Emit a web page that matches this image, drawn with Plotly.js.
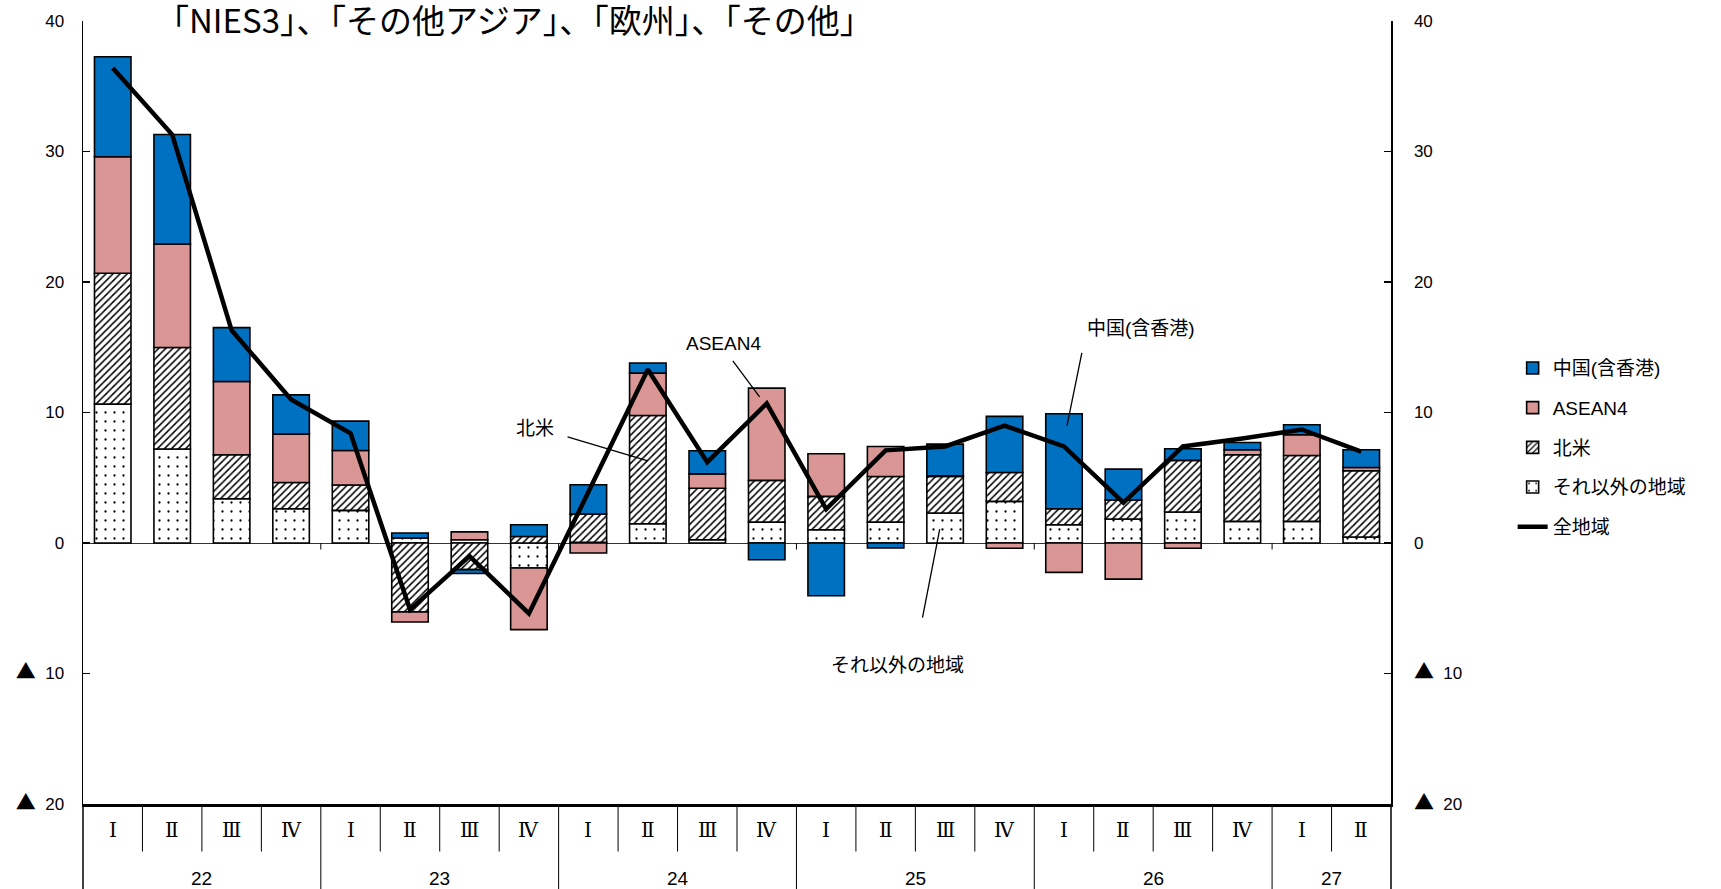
<!DOCTYPE html>
<html>
<head>
<meta charset="utf-8">
<script src="https://cdn.plot.ly/plotly-3.0.1.min.js"></script>
<style>html,body{margin:0;padding:0;background:#fff;}#chart{width:1721px;height:889px;}</style>
</head>
<body>
<div id="chart"></div>
<script>
// ---- data ----
const quarters = ['Ⅰ','Ⅱ','Ⅲ','Ⅳ','Ⅰ','Ⅱ','Ⅲ','Ⅳ','Ⅰ','Ⅱ','Ⅲ','Ⅳ','Ⅰ','Ⅱ','Ⅲ','Ⅳ','Ⅰ','Ⅱ','Ⅲ','Ⅳ','Ⅰ','Ⅱ'];
const years = ['22','22','22','22','23','23','23','23','24','24','24','24','25','25','25','25','26','26','26','26','27','27'];
const yearLabels = ['22','23','24','25','26','27'];
const categories = years.map((y, i) => y + '-' + quarters[i]);

const other  = [10.64, 7.2, 3.39, 2.63, 2.5, 0.38, 0.25, -1.91, 0.05, 1.48, 0.25, 1.6, 1.02, 1.6, 2.3, 3.19, 1.4, 1.84, 2.37, 1.66, 1.66, 0.46];
const northAmerica = [10.03, 7.78, 3.37, 2.01, 1.94, -5.28, -2.04, 0.5, 2.17, 8.29, 3.95, 3.2, 2.55, 3.5, 2.8, 2.21, 1.23, 1.46, 3.96, 5.1, 5.04, 5.08];
const asean4 = [8.93, 7.92, 5.61, 3.7, 2.65, -0.77, 0.6, -4.73, -0.77, 3.25, 1.1, 7.07, 3.27, 2.3, 0.05, -0.4, -2.25, -2.77, -0.4, 0.38, 1.6, 0.25];
const china  = [7.66, 8.4, 4.13, 3.01, 2.25, 0.39, -0.3, 0.9, 2.24, 0.77, 1.77, -1.28, -4.04, -0.38, 2.43, 4.3, 7.27, 2.36, 0.89, 0.56, 0.76, 1.35];
const total  = [36.4, 31.3, 16.3, 11.0, 8.4, -5.1, -1.0, -5.4, 3.9, 13.3, 6.2, 10.7, 2.6, 7.1, 7.4, 9.0, 7.4, 3.1, 7.4, 8.0, 8.7, 7.0];

const tickVals = [-20, -10, 0, 10, 20, 30, 40];
const tri = '<span style="font-family:Noto Sans CJK JP;font-size:20px">▲</span>\u00a0\u00a0';
const tickText = [tri + '20', tri + '10', '0', '10', '20', '30', '40'];

const names = {china: '中国(含香港)', asean: 'ASEAN4', na: '北米', other: 'それ以外の地域', total: '全地域'};
const noteText = '「NIES3」、「その他アジア」、「欧州」、「その他」';

// ---- styling ----
const FONT = 'Liberation Sans, Arial, Noto Sans CJK JP, sans-serif';
const outline = {color: '#000', width: 1.6};

const traces = [
  {type: 'bar', name: names.other, x: categories, y: other, legendrank: 4, legendgroup: 'd',
   marker: {color: '#fff', line: outline, pattern: {shape: '.', fgcolor: '#000', bgcolor: '#fff', size: 9, solidity: 0.05}}},
  {type: 'bar', name: names.na, x: categories, y: northAmerica, legendrank: 3, legendgroup: 'c',
   marker: {color: '#fff', line: outline, pattern: {shape: '/', fgcolor: '#000', bgcolor: '#fff', size: 5, solidity: 0.3}}},
  {type: 'bar', name: names.asean, x: categories, y: asean4, legendrank: 2, legendgroup: 'b',
   marker: {color: '#DA9694', line: outline}},
  {type: 'bar', name: names.china, x: categories, y: china, legendrank: 1, legendgroup: 'a',
   marker: {color: '#0070C0', line: outline}},
  {type: 'scatter', mode: 'lines', name: names.total, x: categories, y: total, yaxis: 'y2', legendrank: 5, legendgroup: 'e',
   line: {color: '#000', width: 4.5}}
];

// ---- category table below the plot ----
const n = categories.length;
const shapes = [];
const annotations = [];
const tableQ = -0.0607, tableBottom = -0.1086;
for (let i = 0; i < n - 1; i++) {
  const boundary = years[i] !== years[i + 1];
  shapes.push({type: 'line', xref: 'x', yref: 'paper', x0: i + 0.5, x1: i + 0.5, y0: 0, y1: boundary ? tableBottom : tableQ,
               line: {color: '#000', width: 1}});
  if (boundary) {
    shapes.push({type: 'line', xref: 'x', yref: 'y', x0: i + 0.5, x1: i + 0.5, y0: 0, y1: -0.5, line: {color: '#000', width: 1}});
  }
}
shapes.push({type: 'line', xref: 'paper', yref: 'paper', x0: 0, x1: 0, y0: 0, y1: tableBottom, line: {color: '#000', width: 1.5}});
shapes.push({type: 'line', xref: 'paper', yref: 'paper', x0: 1, x1: 1, y0: 0, y1: tableBottom, line: {color: '#000', width: 1.5}});

quarters.forEach((q, i) => {
  annotations.push({xref: 'x', yref: 'paper', x: i, y: -0.0338, text: q, showarrow: false,
    font: {family: 'DejaVu Serif, Liberation Serif, serif', size: 20, color: '#000'}, yanchor: 'middle'});
});
yearLabels.forEach(y => {
  const idx = years.map((v, i) => v === y ? i : -1).filter(i => i >= 0);
  const c = (idx[0] + idx[idx.length - 1]) / 2;
  annotations.push({xref: 'x', yref: 'paper', x: c, y: -0.095, text: y, showarrow: false,
    font: {family: 'Liberation Sans Narrow, Liberation Sans, sans-serif', size: 19, color: '#000'}, yanchor: 'middle'});
});

// ---- callout labels ----
const callFont = {family: FONT, size: 19, color: '#000'};
const callouts = [
  {text: names.asean, tx: 10.28, ty: 15.3, l: [10.43, 13.96, 10.88, 11.2]},
  {text: names.na, tx: 7.11, ty: 8.75, l: [7.65, 8.14, 9.0, 6.3]},
  {text: names.china, tx: 17.29, ty: 16.4, l: [16.3, 14.57, 16.05, 8.98]},
  {text: names.other, tx: 13.2, ty: -9.35, l: [13.62, -5.72, 13.91, 1.07]}
];
callouts.forEach(c => {
  annotations.push({xref: 'x', yref: 'y', x: c.tx, y: c.ty, text: c.text, showarrow: false, font: callFont});
  shapes.push({type: 'line', xref: 'x', yref: 'y', x0: c.l[0], y0: c.l[1], x1: c.l[2], y1: c.l[3], line: {color: '#000', width: 1.3}});
});

annotations.push({xref: 'x', yref: 'paper', x: 6.76, y: 1.003, text: noteText, showarrow: false,
  font: {family: 'Noto Sans CJK JP, sans-serif', size: 33, color: '#000'}, yanchor: 'middle'});

const yCommon = {range: [-20, 40], tickvals: tickVals, ticktext: tickText, ticks: 'inside', ticklen: 7, tickwidth: 1.2,
  tickcolor: '#000', showline: true, linecolor: '#000', linewidth: 1.5, showgrid: false, fixedrange: true,
  tickfont: {family: FONT, size: 17, color: '#000'}};

const layout = {
  width: 1721, height: 889,
  margin: {l: 83, r: 330, t: 21, b: 85},
  paper_bgcolor: '#fff', plot_bgcolor: '#fff',
  barmode: 'relative', bargap: 0.386,
  showlegend: true,
  legend: {x: 1.093, y: 0.581, xanchor: 'left', yanchor: 'top', font: {family: FONT, size: 19, color: '#000'},
           tracegroupgap: 12, bgcolor: 'rgba(0,0,0,0)', itemwidth: 30},
  xaxis: {type: 'category', categoryorder: 'array', categoryarray: categories, range: [-0.5, n - 0.5],
          showticklabels: false, ticks: '', showline: true, linecolor: '#000', linewidth: 2.5, showgrid: false, zeroline: false},
  yaxis: Object.assign({}, yCommon, {zeroline: true, zerolinecolor: '#333', zerolinewidth: 1, ticklabelstandoff: 14}),
  yaxis2: Object.assign({}, yCommon, {overlaying: 'y', side: 'right', zeroline: false, ticklabelstandoff: 18}),
  shapes: shapes,
  annotations: annotations
};

Plotly.newPlot('chart', traces, layout, {displayModeBar: false, staticPlot: true});
</script>
</body>
</html>
